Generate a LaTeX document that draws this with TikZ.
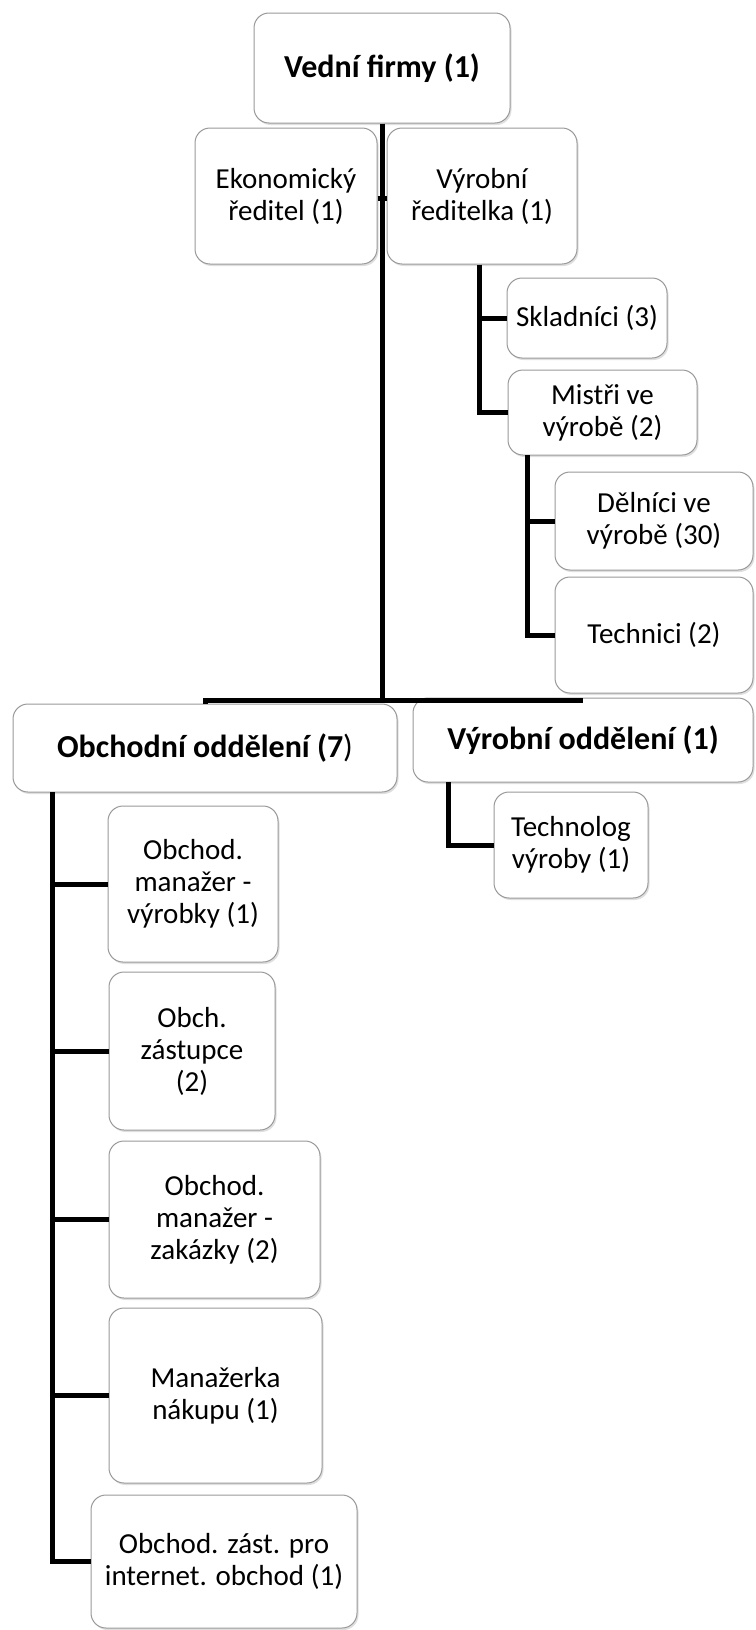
\documentclass[tikz,border=0pt]{standalone}
\usepackage{fontspec}
\setmainfont{Carlito}
\usetikzlibrary{shadows}

\tikzset{
  orgbox/.style={draw=gray!80, line width=1pt, fill=white, rounded corners=15pt,
    drop shadow={shadow xshift=1.5pt, shadow yshift=-2pt, opacity=0.25},
    align=center, inner sep=0pt, font=\fontsize{29}{32}\selectfont},
  headbox/.style={orgbox, font=\fontsize{32}{35}\selectfont\bfseries},
  link/.style={line width=5pt, draw=black}
}

\begin{document}
\begin{tikzpicture}[x=1pt, y=-1pt]
\useasboundingbox (0,0) rectangle (755,1630);

% top level and directors
\node[headbox, minimum width=256pt, minimum height=110pt] (vf) at (382,68) {Vední firmy (1)};
\node[orgbox, minimum width=182pt, minimum height=136pt] (ek) at (286,196) {Ekonomický\\ředitel (1)};
\node[orgbox, minimum width=190pt, minimum height=136pt] (vr) at (482,196) {Výrobní\\ředitelka (1)};

% production branch
\node[orgbox, minimum width=160pt, minimum height=80pt] (sk) at (587,318) {Skladníci (3)};
\node[orgbox, minimum width=189pt, minimum height=85pt] (mi) at (602.5,412.5) {Mistři ve\\výrobě (2)};
\node[orgbox, minimum width=198pt, minimum height=98pt] (de) at (654,521) {Dělníci ve\\výrobě (30)};
\node[orgbox, minimum width=198pt, minimum height=116pt] (te) at (654,635) {Technici (2)};

% departments
\node[headbox, minimum width=384pt, minimum height=88pt] (oo) at (205,748) {Obchodní oddělení (7\mdseries)};
\node[headbox, minimum width=340pt, minimum height=84pt] (vo) at (583,740) {Výrobní oddělení (1)};
\node[orgbox, minimum width=154pt, minimum height=106pt] (tv) at (571,845) {Technolog\\výroby (1)};

% sales department staff
\node[orgbox, minimum width=170pt, minimum height=156pt] (m1) at (193,884) {Obchod.\\manažer -\\výrobky (1)};
\node[orgbox, minimum width=166pt, minimum height=158pt] (oz) at (192,1051) {Obch.\\zástupce\\(2)};
\node[orgbox, minimum width=211pt, minimum height=157pt] (m2) at (214.5,1219.5) {Obchod.\\manažer -\\zakázky (2)};
\node[orgbox, minimum width=213pt, minimum height=175pt] (mn) at (215.5,1395.5) {Manažerka\\nákupu (1)};
\node[orgbox, minimum width=266pt, minimum height=133pt] (oi) at (224,1561.5) {Obchod. zást. pro\\internet. obchod (1)};

% connectors
\coordinate (j) at (vf.south |- 0,700);
\draw[link] (vf.south) -- (j);
\draw[link] (j) -| (oo.north);
\draw[link] (j) -- (j -| vo.north);
\draw[link] (ek.east |- 0,198) -- (vr.west |- 0,198);

\coordinate (vrb) at ([xshift=-3pt]vr.south);
\draw[link] (vrb) |- (mi.west);
\draw[link] (vrb |- sk.west) -- (sk.west);

\coordinate (mib) at (527,455);
\draw[link] (mib) |- (te.west);
\draw[link] (mib |- de.west) -- (de.west);

\coordinate (vob) at (448,782);
\draw[link] (vob) |- (tv.west);

\coordinate (oob) at (52,792);
\draw[link] (oob) |- (oi.west);
\draw[link] (oob |- m1.west) -- (m1.west);
\draw[link] (oob |- oz.west) -- (oz.west);
\draw[link] (oob |- m2.west) -- (m2.west);
\draw[link] (oob |- mn.west) -- (mn.west);
\end{tikzpicture}
\end{document}
